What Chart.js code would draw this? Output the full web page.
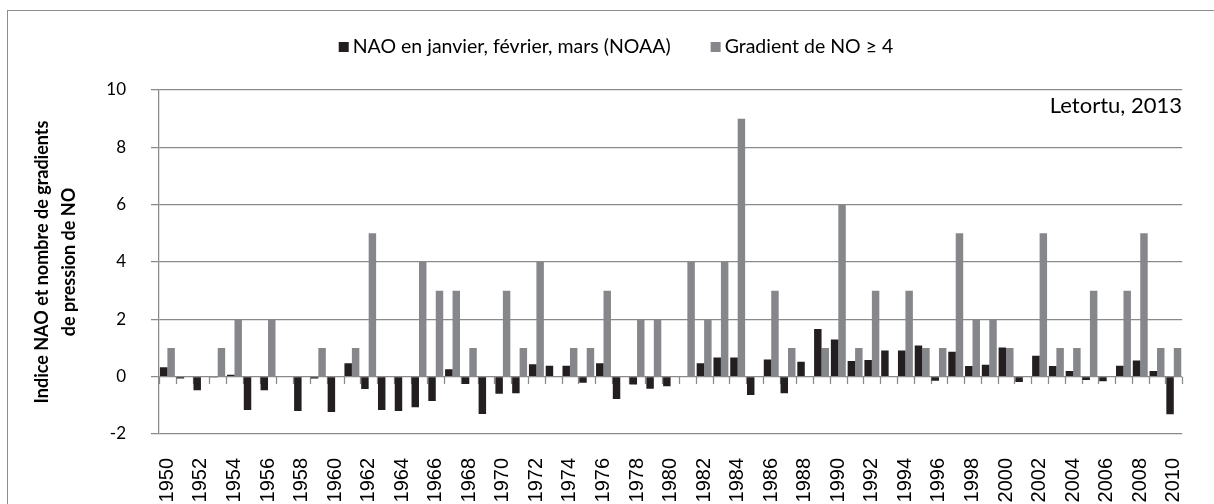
<!DOCTYPE html>
<html lang="fr">
<head>
  <meta charset="UTF-8" />
  <title>NAO et gradients de pression de NO, 1950-2010</title>
  <script src="https://cdn.jsdelivr.net/npm/chart.js"></script>
  <style>
    html, body { margin: 0; padding: 0; background: #fff; overflow: hidden; }
    .frame {
      position: absolute; left: 7px; top: 10px;
      width: 1300px; height: 600px;
      border: 1.3px solid #8e8e8e;
    }
    #chart { position: absolute; left: 0; top: 0; }
  </style>
</head>
<body>
  <div class="frame"></div>
  <canvas id="chart" width="1214" height="504"></canvas>

  <script>
    // Years on the category axis
    const years = [
      "1950", "1951", "1952", "1953", "1954", "1955", "1956", "1957", "1958", "1959",
      "1960", "1961", "1962", "1963", "1964", "1965", "1966", "1967", "1968", "1969",
      "1970", "1971", "1972", "1973", "1974", "1975", "1976", "1977", "1978", "1979",
      "1980", "1981", "1982", "1983", "1984", "1985", "1986", "1987", "1988", "1989",
      "1990", "1991", "1992", "1993", "1994", "1995", "1996", "1997", "1998", "1999",
      "2000", "2001", "2002", "2003", "2004", "2005", "2006", "2007", "2008", "2009",
      "2010"
    ];

    // NAO index, January-March (NOAA)
    const naoIndex = [
      0.33, -0.06, -0.47, -0.03, 0.07, -1.16, -0.47, 0, -1.2, -0.06,
      -1.23, 0.47, -0.43, -1.16, -1.2, -1.07, -0.85, 0.26, -0.26, -1.3,
      -0.6, -0.58, 0.43, 0.38, 0.38, -0.21, 0.47, -0.78, -0.27, -0.42,
      -0.33, 0, 0.47, 0.67, 0.67, -0.64, 0.6, -0.58, 0.52, 1.66,
      1.3, 0.55, 0.58, 0.91, 0.91, 1.09, -0.14, 0.87, 0.37, 0.42,
      1.02, -0.19, 0.73, 0.37, 0.2, -0.12, -0.16, 0.38, 0.56, 0.2,
      -1.31
    ];

    // Number of NW pressure gradients >= 4
    const gradientCount = [
      1, 0, 0, 1, 2, 0, 2, 0, 0, 1,
      0, 1, 5, 0, 0, 4, 3, 3, 1, 0,
      3, 1, 4, 0, 1, 1, 3, 0, 2, 2,
      0, 4, 2, 4, 9, 0, 3, 1, 0, 1,
      6, 1, 3, 0, 3, 1, 1, 5, 2, 2,
      1, 0, 5, 1, 1, 3, 0, 3, 5, 1,
      1
    ];

    const seriesLabels = ["NAO en janvier, février, mars (NOAA)", "Gradient de NO \u2265 4"];
    const seriesColors = ["#231f20", "#86878a"];
    const yTitle = ["Indice NAO et nombre de gradients", "de pression de NO"];
    const note = "Letortu, 2013";

    const gridColor = "#8a8a8a";
    const calibriLike = "Lato, 'Noto Sans', sans-serif";

    // zero-line tick marks, legend and source note
    const extras = {
      id: "extras",
      beforeDatasetsDraw(chart) {
        const { ctx, scales: { x, y } } = chart;
        const y0 = Math.round(y.getPixelForValue(0));
        ctx.save();
        ctx.strokeStyle = gridColor;
        ctx.lineWidth = 1.25;
        ctx.beginPath();
        for (let i = 0; i <= years.length; i++) {
          const px = Math.round(x.getPixelForValue(i - 0.5)) + 0.5;
          ctx.moveTo(px, y0);
          ctx.lineTo(px, y0 + 7);
        }
        ctx.stroke();
        ctx.restore();
      },
      afterDraw(chart) {
        const { ctx } = chart;
        ctx.save();
        ctx.font = "19.5px " + calibriLike;
        ctx.textBaseline = "alphabetic";
        ctx.fillStyle = "#000";
        const box = 10, gap = 4, itemGap = 40;
        const widths = seriesLabels.map(t => ctx.measureText(t).width);
        const total = widths.reduce((s, w) => s + box + gap + w, 0) + itemGap;
        let lx = 616 - total / 2;
        seriesLabels.forEach((t, i) => {
          ctx.fillStyle = seriesColors[i];
          ctx.fillRect(lx, 42, box, box);
          ctx.fillStyle = "#000";
          ctx.fillText(t, lx + box + gap, 53);
          lx += box + gap + widths[i] + itemGap;
        });

        ctx.font = "22px " + calibriLike;
        ctx.textAlign = "right";
        ctx.fillText(note, 1182, 113);
        ctx.restore();
      }
    };

    new Chart(document.getElementById("chart"), {
      type: "bar",
      data: {
        labels: years,
        datasets: [
          { label: seriesLabels[0], data: naoIndex, backgroundColor: seriesColors[0] },
          { label: seriesLabels[1], data: gradientCount, backgroundColor: seriesColors[1] }
        ]
      },
      options: {
        responsive: false,
        animation: false,
        layout: { padding: { left: 0, right: 25, top: 90, bottom: 0 } },
        datasets: { bar: { categoryPercentage: 0.89, barPercentage: 1.0 } },
        plugins: {
          legend: { display: false },
          tooltip: { enabled: false }
        },
        scales: {
          x: {
            grid: { display: false },
            border: { display: false },
            afterFit(scale) { scale.height = 70; },
            ticks: {
              autoSkip: false,
              minRotation: 90,
              maxRotation: 90,
              padding: 16,
              color: "#000",
              font: { family: "'Liberation Sans', Arial, sans-serif", size: 20 },
              callback(value, index) { return index % 2 === 0 ? years[index] : ""; }
            }
          },
          y: {
            min: -2,
            max: 10,
            afterFit(scale) { scale.width = 159; },
            grid: { color: gridColor, lineWidth: 1.25, tickLength: 8 },
            border: { color: gridColor, width: 1.25 },
            ticks: {
              stepSize: 2,
              padding: 25,
              color: "#000",
              font: { family: calibriLike, size: 17 }
            },
            title: {
              display: true,
              text: yTitle,
              color: "#000",
              padding: { top: 29, bottom: 0 },
              font: { family: calibriLike, size: 18, weight: "bold", lineHeight: "26.5px" }
            }
          }
        }
      },
      plugins: [extras]
    });
  </script>
</body>
</html>
